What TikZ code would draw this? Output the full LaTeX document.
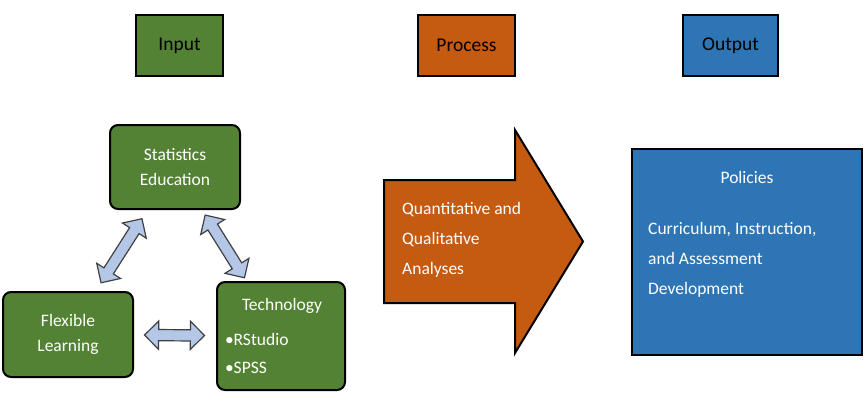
\documentclass[tikz,border=0pt]{standalone}
\usepackage{fontspec}
\setmainfont{Carlito}
\usetikzlibrary{shapes.arrows}
\definecolor{inputgreen}{HTML}{548235}
\definecolor{procorange}{HTML}{C55A11}
\definecolor{outblue}{HTML}{2E75B6}
\definecolor{arrowfill}{HTML}{B4C7E7}
\definecolor{arrowline}{HTML}{404040}
\tikzset{
  headbox/.style={draw=black, line width=1.5pt, minimum height=61pt, inner sep=0pt,
    font=\fontsize{19.5}{24}\selectfont},
  greenbox/.style={draw=black, fill=inputgreen, line width=2pt, rounded corners=8pt,
    text=white, align=center, inner sep=0pt, font=\fontsize{17.5}{25}\selectfont},
  whitetext/.style={text=white, align=left, inner sep=0pt,
    font=\fontsize{17.5}{30}\selectfont},
  dblarrow/.style={double arrow, draw=arrowline, fill=arrowfill, line width=1.2pt,
    double arrow head extend=8.5pt, inner xsep=0pt, inner ysep=5pt, sloped}
}
\begin{document}
\begin{tikzpicture}[x=1pt, y=-1pt]
\useasboundingbox (0,0) rectangle (866,404);
%--- Headings ---
\node[headbox, fill=inputgreen, minimum width=87pt] (input) at (179.5,45.5) {Input};
\node[headbox, fill=procorange, minimum width=97pt] (process) at (466.5,45.5) {Process};
\node[headbox, fill=outblue, minimum width=95pt] (output) at (730.5,45.5) {Output};
%--- Input: the three green boxes ---
\node[greenbox, minimum width=130pt, minimum height=84pt] (stat) at (175,167) {Statistics\\Education};
\node[greenbox, minimum width=130pt, minimum height=85pt] (flex) at (68,334.5) {Flexible\\Learning};
\node[greenbox, minimum width=128pt, minimum height=108pt, align=left, text width=112pt,
  font=\fontsize{17.5}{28}\selectfont] (tech) at (281,336)
  {\hspace*{17pt}Technology\\[7pt]\textbullet RStudio\\\textbullet SPSS};
% Double arrows between the boxes
\path (flex.center) -- node[dblarrow, minimum height=76pt] (flexstat) {} (stat.center);
\path (stat.center) -- node[dblarrow, minimum height=74pt, pos=0.47] (stattech) {} (tech.center);
\path (flex.center) -- node[dblarrow, minimum height=60pt] (flextech) {} (tech.center);
%--- Process: big arrow ---
\filldraw[fill=procorange, draw=black, line width=2pt]
  (384,180) -- (515,180) -- (515,130) -- (583,241.5) -- (515,353) -- (515,303) -- (384,303) -- cycle;
\node[whitetext, anchor=west] (analyses) at (402,240) {Quantitative and\\Qualitative\\Analyses};
%--- Output: policies box ---
\node[draw=black, fill=outblue, line width=1.5pt, minimum width=230pt, minimum height=206pt] (outbox) at (747,252) {};
\node[whitetext] (policies) at (747,177) {Policies};
\node[whitetext, anchor=west] (outtext) at (648,260) {Curriculum, Instruction,\\and Assessment\\Development};
\end{tikzpicture}
\end{document}
